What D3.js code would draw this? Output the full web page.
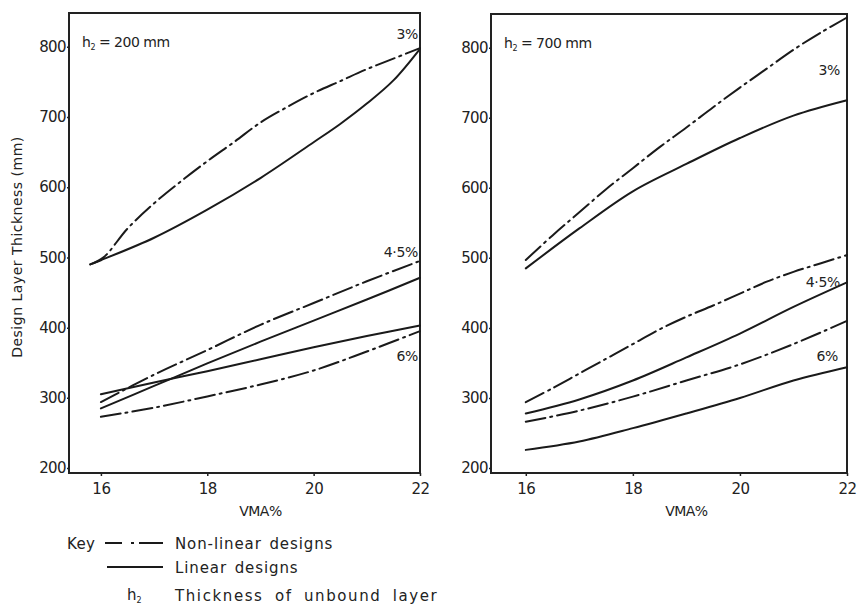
<!DOCTYPE html>
<html>
<head>
<meta charset="utf-8">
<script src="https://cdn.jsdelivr.net/npm/d3@7"></script>
<style>
  html, body { margin: 0; padding: 0; background: #fff; }
  svg { display: block; }
  text { font-family: "DejaVu Sans", sans-serif; fill: #222; }
</style>
</head>
<body>
<svg id="chart" width="858" height="605"></svg>
<script>
// Axis ticks
const vmaTicks = [16, 18, 20, 22];
const thicknessTicks = [200, 300, 400, 500, 600, 700, 800];

// h2 = 200 mm panel: [VMA %, design layer thickness mm]
const h200_nonlinear_3 = [[15.8, 490], [16.05, 500], [16.5, 541], [17, 577], [17.5, 608], [18, 637], [18.5, 664], [19, 692], [19.5, 714], [20, 734], [20.5, 751], [21, 768], [21.5, 783], [22, 798]];
const h200_linear_3 = [[15.8, 490], [16, 496], [17, 528], [18, 568], [19, 613], [20, 664], [20.5, 690], [21, 719], [21.5, 752], [22, 797]];
const h200_nonlinear_45 = [[16, 294], [17, 333], [18, 368], [19, 404], [20, 435], [21, 466], [22, 495]];
const h200_linear_45 = [[16, 285], [17, 317], [18, 349], [19, 380], [20, 410], [21, 440], [22, 471]];
const h200_nonlinear_6 = [[16, 273], [17, 286], [18, 302], [19, 319], [20, 339], [21, 366], [22, 395]];
const h200_linear_6 = [[16, 305], [17, 322], [18, 338], [19, 355], [20, 372], [21, 388], [22, 403]];

// h2 = 700 mm panel
const h700_nonlinear_3 = [[16, 497], [16.5, 532], [17, 565], [17.5, 598], [18, 628], [18.5, 658], [19, 686], [19.5, 715], [20, 743], [20.5, 770], [21, 797], [21.5, 821], [22, 843]];
const h700_linear_3 = [[16, 485], [17, 542], [18, 595], [19, 634], [20, 671], [21, 703], [22, 725]];
const h700_nonlinear_45 = [[16, 294], [16.5, 314], [17, 335], [17.5, 356], [18, 377], [18.5, 398], [19, 416], [19.5, 432], [20, 449], [20.5, 466], [21, 480], [21.5, 492], [22, 504]];
const h700_linear_45 = [[16, 278], [17, 298], [18, 325], [19, 358], [20, 392], [21, 430], [22, 465]];
const h700_nonlinear_6 = [[16, 266], [17, 282], [18, 302], [19, 325], [20, 348], [21, 377], [22, 410]];
const h700_linear_6 = [[16, 226], [17, 238], [18, 257], [19, 278], [20, 300], [21, 325], [22, 344]];

const DASH_DOT = "20,5,2,5";

const panels = [
  {
    left: 69, right: 420, top: 13, bottom: 473, xMin: 15.4,
    title: "200 mm",
    series: [
      { pts: h200_nonlinear_3, nonlinear: true },
      { pts: h200_linear_3, nonlinear: false },
      { pts: h200_nonlinear_45, nonlinear: true },
      { pts: h200_linear_45, nonlinear: false },
      { pts: h200_nonlinear_6, nonlinear: true },
      { pts: h200_linear_6, nonlinear: false }
    ],
    labels: [
      { text: "3%", x: 22, y: 811, dx: -2 },
      { text: "4·5%", x: 22, y: 500, dx: -2 },
      { text: "6%", x: 22, y: 352, dx: -2 }
    ]
  },
  {
    left: 491, right: 847, top: 14, bottom: 473, xMin: 15.35,
    title: "700 mm",
    series: [
      { pts: h700_nonlinear_3, nonlinear: true },
      { pts: h700_linear_3, nonlinear: false },
      { pts: h700_nonlinear_45, nonlinear: true },
      { pts: h700_linear_45, nonlinear: false },
      { pts: h700_nonlinear_6, nonlinear: true },
      { pts: h700_linear_6, nonlinear: false }
    ],
    labels: [
      { text: "3%", x: 22, y: 761, dx: -7 },
      { text: "4·5%", x: 22, y: 458, dx: -7 },
      { text: "6%", x: 22, y: 353, dx: -9 }
    ]
  }
];

const svg = d3.select("#chart");

panels.forEach(p => {
  const x = d3.scaleLinear().domain([p.xMin, 22]).range([p.left, p.right]);
  const y = d3.scaleLinear().domain([193, 848]).range([p.bottom, p.top]);
  const g = svg.append("g");

  // frame
  g.append("rect")
    .attr("x", p.left).attr("y", p.top)
    .attr("width", p.right - p.left).attr("height", p.bottom - p.top)
    .attr("fill", "none").attr("stroke", "#222").attr("stroke-width", 2);

  // x axis
  const xAxis = g.append("g")
    .attr("transform", `translate(0,${p.bottom})`)
    .call(d3.axisBottom(x).tickValues(vmaTicks).tickSize(3).tickPadding(7).tickFormat(d3.format("d")));
  xAxis.select(".domain").remove();
  xAxis.selectAll("line").attr("stroke", "#222").attr("stroke-width", 1.5);
  xAxis.selectAll("text").attr("font-size", 15).attr("letter-spacing", -0.5).style("font-family", "DejaVu Sans, sans-serif").attr("fill", "#222");

  // y axis
  const yAxis = g.append("g")
    .attr("transform", `translate(${p.left},0)`)
    .call(d3.axisLeft(y).tickValues(thicknessTicks).tickSize(2).tickPadding(1).tickFormat(d3.format("d")));
  yAxis.select(".domain").remove();
  yAxis.selectAll("line").attr("stroke", "#222").attr("stroke-width", 1.5);
  yAxis.selectAll("text").attr("font-size", 15).attr("letter-spacing", -0.6).style("font-family", "DejaVu Sans, sans-serif").attr("fill", "#222");

  // x axis title
  g.append("text")
    .attr("x", (x(16) + x(22)) / 2).attr("y", 516)
    .attr("text-anchor", "middle").attr("font-size", 14).attr("letter-spacing", -0.5)
    .text("VMA%");

  // panel title
  const t = g.append("text")
    .attr("x", p.left + 13).attr("y", p.top + 34)
    .attr("font-size", 14).attr("letter-spacing", -0.5);
  t.append("tspan").text("h");
  t.append("tspan").attr("font-size", 8).attr("dy", 3).text("2");
  t.append("tspan").attr("dy", -3).text(" = " + p.title);

  // curves
  const line = d3.line()
    .x(d => x(d[0])).y(d => y(d[1]))
    .curve(d3.curveCatmullRom.alpha(0.5));
  p.series.forEach(s => {
    g.append("path")
      .datum(s.pts)
      .attr("d", line)
      .attr("fill", "none")
      .attr("stroke", "#1a1a1a")
      .attr("stroke-width", 2)
      .attr("stroke-linecap", "round")
      .attr("stroke-dasharray", s.nonlinear ? DASH_DOT : null);
  });

  // curve labels
  p.labels.forEach(l => {
    g.append("text")
      .attr("x", x(l.x) + l.dx).attr("y", y(l.y))
      .attr("text-anchor", "end").attr("font-size", 14).attr("letter-spacing", -0.3)
      .text(l.text);
  });
});

// shared y-axis title
svg.append("text")
  .attr("transform", "translate(22,247) rotate(-90)")
  .attr("text-anchor", "middle").attr("font-size", 14).attr("letter-spacing", 0.5)
  .text("Design Layer Thickness (mm)");

// key
const key = svg.append("g");
key.append("text").attr("x", 67).attr("y", 549).attr("font-size", 15).attr("letter-spacing", 0.4).text("Key");
key.append("line").attr("x1", 105).attr("x2", 163).attr("y1", 543).attr("y2", 543)
  .attr("stroke", "#1a1a1a").attr("stroke-width", 2).attr("stroke-dasharray", "17,9,3,5,30");
key.append("text").attr("x", 175).attr("y", 549).attr("font-size", 15).attr("letter-spacing", 0.9).attr("word-spacing", 2).text("Non-linear designs");
key.append("line").attr("x1", 107).attr("x2", 163).attr("y1", 567).attr("y2", 567)
  .attr("stroke", "#1a1a1a").attr("stroke-width", 2);
key.append("text").attr("x", 175).attr("y", 573).attr("font-size", 15).attr("letter-spacing", 0.9).attr("word-spacing", 2).text("Linear designs");
const hk = key.append("text").attr("x", 127).attr("y", 600).attr("font-size", 15);
hk.append("tspan").text("h");
hk.append("tspan").attr("font-size", 8).attr("dy", 3).text("2");
key.append("text").attr("x", 175).attr("y", 601).attr("font-size", 15).attr("letter-spacing", 1.6).attr("word-spacing", 5).text("Thickness of unbound layer");
</script>
</body>
</html>
